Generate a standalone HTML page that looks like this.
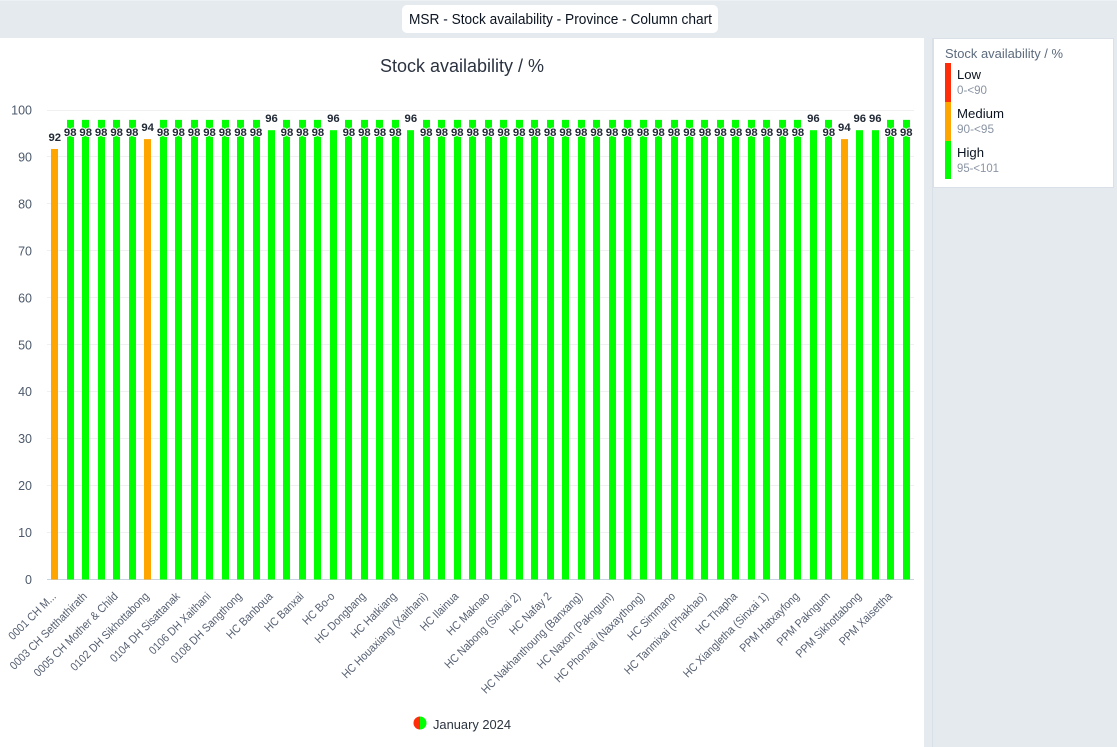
<!DOCTYPE html>
<html lang="en">
<head>
<meta charset="utf-8">
<title>MSR - Stock availability - Province - Column chart</title>
<style>
html,body{margin:0;padding:0;width:1117px;height:747px;overflow:hidden;background:#e5eaef;}
svg{display:block;font-family:"Liberation Sans",sans-serif;}
</style>
</head>
<body>
<svg id="page" width="1117" height="747" viewBox="0 0 1117 747" xmlns="http://www.w3.org/2000/svg">
  <rect x="0" y="0" width="1117" height="747" fill="#e5eaef"/>
  <rect x="0" y="0" width="1117" height="1" fill="#eef1f4"/>
  <g>
    <rect x="402" y="5" width="316" height="28" rx="5" fill="#ffffff"/>
    <text x="409" y="24" font-size="14.5" fill="#0b1420" textLength="303" lengthAdjust="spacingAndGlyphs">MSR - Stock availability - Province - Column chart</text>
  </g>
  <rect x="0" y="38" width="924" height="709" fill="#ffffff"/>
  <rect x="932" y="38" width="1" height="709" fill="#d9e0e7"/>
  <text x="380" y="72" font-size="18" fill="#2b3340" textLength="164" lengthAdjust="spacingAndGlyphs">Stock availability / %</text>

  <g id="y-axis"></g>
  <g id="bars"></g>
  <g id="value-labels"></g>
  <g id="x-axis"></g>

  <g>
    <path d="M420 716.5a6.5 6.5 0 0 0 0 13z" fill="#ff2d0a"/>
    <path d="M420 716.5a6.5 6.5 0 0 1 0 13z" fill="#00ff00"/>
    <text x="433" y="729" font-size="13" fill="#2b3340" textLength="78" lengthAdjust="spacingAndGlyphs">January 2024</text>
  </g>

  <g>
    <rect x="933.5" y="38.5" width="180" height="149" fill="#ffffff" stroke="#d9e0e7"/>
    <text x="945" y="58" font-size="12.5" fill="#5d6b7d" textLength="118" lengthAdjust="spacingAndGlyphs">Stock availability / %</text>
    <rect x="945" y="63" width="6" height="39" fill="#ff2d0a"/>
    <rect x="945" y="102" width="6" height="39" fill="#ffa500"/>
    <rect x="945" y="141" width="6" height="38" fill="#00ff00"/>
    <text x="957" y="79" font-size="13" fill="#0b1420" textLength="24" lengthAdjust="spacingAndGlyphs">Low</text>
    <text x="957" y="94" font-size="12" fill="#8a94a3" textLength="30" lengthAdjust="spacingAndGlyphs">0-&lt;90</text>
    <text x="957" y="118" font-size="13" fill="#0b1420" textLength="47" lengthAdjust="spacingAndGlyphs">Medium</text>
    <text x="957" y="133" font-size="12" fill="#8a94a3" textLength="37" lengthAdjust="spacingAndGlyphs">90-&lt;95</text>
    <text x="957" y="157" font-size="13" fill="#0b1420" textLength="27" lengthAdjust="spacingAndGlyphs">High</text>
    <text x="957" y="172" font-size="12" fill="#8a94a3" textLength="42" lengthAdjust="spacingAndGlyphs">95-&lt;101</text>
  </g>
</svg>
<script>
// Only every second category label is shown in the chart; unread ones stay empty.
const categories = [
  "0001 CH M...", "", "0003 CH Setthathirath", "", "0005 CH Mother & Child", "", "0102 DH Sikhottabong", "",
  "0104 DH Sisattanak", "", "0106 DH Xaithani", "", "0108 DH Sangthong", "", "HC Banboua", "",
  "HC Banxai", "", "HC Bo-o", "", "HC Dongbang", "", "HC Hatkiang", "",
  "HC Houaxiang (Xaithani)", "", "HC Ilainua", "", "HC Maknao", "", "HC Nabong (Sinxai 2)", "",
  "HC Nafay 2", "", "HC Nakhanthoung (Banxang)", "", "HC Naxon (Pakngum)", "", "HC Phonxai (Naxaythong)", "",
  "HC Simmano", "", "HC Tanmixai (Phakhao)", "", "HC Thapha", "", "HC Xiangletha (Sinxai 1)", "",
  "PPM Hatxayfong", "", "PPM Pakngum", "", "PPM Sikhottabong", "", "PPM Xaisettha", ""
];
const stockValues = [
  91.7, 97.9, 97.9, 97.9, 97.9, 97.9, 93.8, 97.9,
  97.9, 97.9, 97.9, 97.9, 97.9, 97.9, 95.7, 97.9,
  97.9, 97.9, 95.7, 97.9, 97.9, 97.9, 97.9, 95.7,
  97.9, 97.9, 97.9, 97.9, 97.9, 97.9, 97.9, 97.9,
  97.9, 97.9, 97.9, 97.9, 97.9, 97.9, 97.9, 97.9,
  97.9, 97.9, 97.9, 97.9, 97.9, 97.9, 97.9, 97.9,
  97.9, 95.7, 97.9, 93.8, 95.7, 95.7, 97.9, 97.9
];
const yTicks = [0, 10, 20, 30, 40, 50, 60, 70, 80, 90, 100];

const NS = 'http://www.w3.org/2000/svg';
const plotLeft = 47, plotRight = 914, plotTop = 110, plotBottom = 579.5;
const yMax = 100;
const barWidth = 7;

function yScale(v) {
  return plotBottom - (v / yMax) * (plotBottom - plotTop);
}
function xCenter(i) {
  return plotLeft + (i + 0.5) * (plotRight - plotLeft) / categories.length;
}
function barColor(v) {
  if (v < 90) return '#ff2d0a';
  if (v < 95) return '#ffa500';
  return '#00ff00';
}
function make(tag, attrs, parent) {
  const el = document.createElementNS(NS, tag);
  for (const k in attrs) el.setAttribute(k, attrs[k]);
  parent.appendChild(el);
  return el;
}

const yAxis = document.getElementById('y-axis');
const barsGroup = document.getElementById('bars');
const labelsGroup = document.getElementById('value-labels');
const xAxis = document.getElementById('x-axis');

yTicks.forEach(function (t) {
  const y = yScale(t);
  const line = make('rect', {
    x: plotLeft, y: Math.round(y - 0.5), width: plotRight - plotLeft, height: 1,
    fill: t === 0 ? '#c8d2e0' : '#eef0f2'
  }, yAxis);
  
  
  const label = make('text', {
    x: 32, y: y + 4.5, 'text-anchor': 'end', 'font-size': 12.5, fill: '#4d5a6c'
  }, yAxis);
  label.textContent = String(t);
  
  
});

stockValues.forEach(function (v, i) {
  const cx = xCenter(i);
  const top = yScale(v);
  const bar = make('rect', {
    x: Math.round(cx - barWidth / 2), y: top, width: barWidth, height: plotBottom - top,
    fill: barColor(v)
  }, barsGroup);
  
  

  const above = top - 12;
  const labelCenter = (above - 7 < plotTop) ? top + 12 : above;
  const label = make('text', {
    x: cx, y: labelCenter + 4, 'text-anchor': 'middle', 'font-size': 11.3, 'font-weight': 'bold',
    fill: '#222a36', stroke: '#ffffff', 'stroke-width': 2, 'stroke-linejoin': 'round',
    'paint-order': 'stroke'
  }, labelsGroup);
  label.textContent = String(Math.round(v));
  
  

  if (categories[i]) {
    const ax = cx + 2;
    const ay = 597;
    const tick = make('text', {
      x: 0, y: 0, 'text-anchor': 'end', 'font-size': 11.6, fill: '#555f70',
      transform: 'translate(' + ax + ' ' + ay + ') rotate(-45) scale(0.905 1)'
    }, xAxis);
    tick.textContent = categories[i];
    
    
  }
});
</script>
</body>
</html>
